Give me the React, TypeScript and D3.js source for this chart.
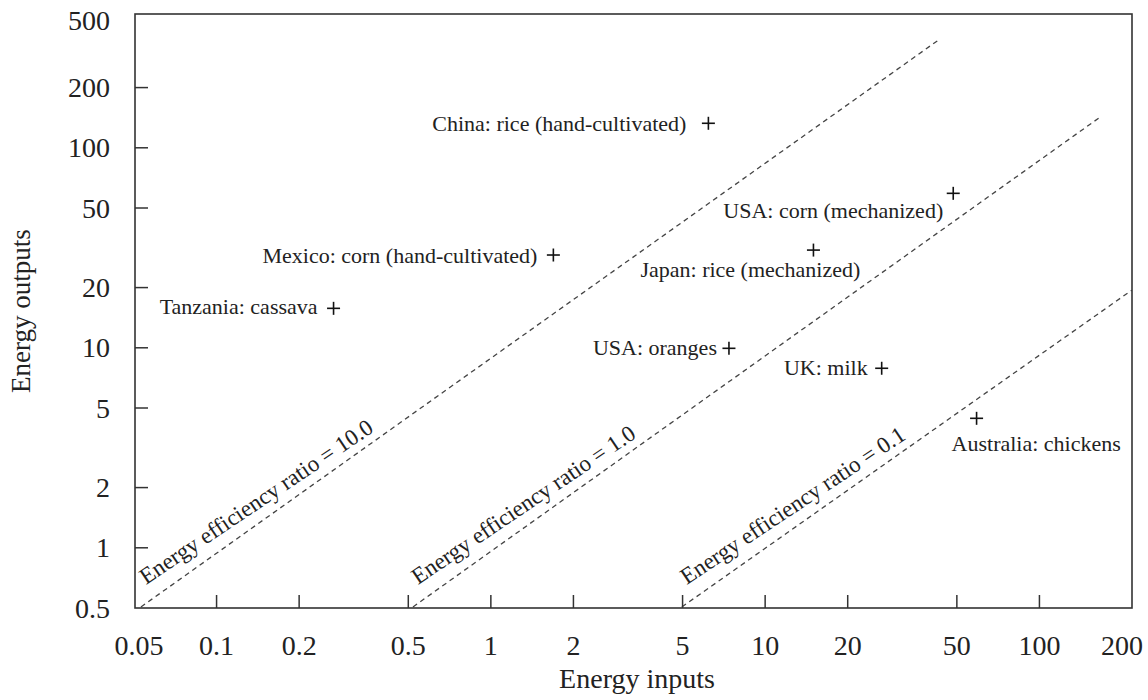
import React from "react";
import * as d3 from "d3";

const X_TICKS = [0.05, 0.1, 0.2, 0.5, 1, 2, 5, 10, 20, 50, 100, 200];
const Y_TICKS = [0.5, 1, 2, 5, 10, 20, 50, 100, 200, 500];

const CROPS = [
  "China: rice (hand-cultivated)",
  "Mexico: corn (hand-cultivated)",
  "Tanzania: cassava",
  "USA: corn (mechanized)",
  "Japan: rice (mechanized)",
  "USA: oranges",
  "UK: milk",
  "Australia: chickens",
];
const INPUTS = [6.21, 1.69, 0.267, 48.5, 15.0, 7.38, 26.6, 59.0];
const OUTPUTS = [132.6, 29.1, 15.75, 59.2, 30.8, 9.94, 7.9, 4.44];

const RATIOS = ["10.0", "1.0", "0.1"];
const RATIO_START_IN = [0.053, 0.52, 4.97];
const RATIO_START_OUT = [0.506, 0.506, 0.506];
const RATIO_END_IN = [43.4, 166, 217];
const RATIO_END_OUT = [350, 142, 19.4];

// label layout (style)
const LABEL_LAYOUT: Record<string, { anchor: string; dx: number; dy: number }> = {
  "China: rice (hand-cultivated)": { anchor: "end", dx: -22, dy: 8 },
  "Mexico: corn (hand-cultivated)": { anchor: "end", dx: -16, dy: 8 },
  "Tanzania: cassava": { anchor: "end", dx: -16, dy: 6 },
  "USA: corn (mechanized)": { anchor: "end", dx: -10, dy: 25 },
  "Japan: rice (mechanized)": { anchor: "start", dx: -173, dy: 27 },
  "USA: oranges": { anchor: "end", dx: -12, dy: 7 },
  "UK: milk": { anchor: "end", dx: -14, dy: 7 },
  "Australia: chickens": { anchor: "start", dx: -25, dy: 33 },
};

const FONT = "'Liberation Serif', 'DejaVu Serif', serif";
const W = 1148;
const H = 700;
const FRAME = { left: 135, right: 1132, top: 14, bottom: 608 };
const AXIS = "#333";

export default function App() {
  const x = d3.scaleLog().domain([0.05, 200]).range([134, 1122]);
  const y = d3.scaleLog().domain([0.5, 500]).range([608, 8]);
  const fmt = (v: number) => String(v);
  const plus = 6.5;

  return (
    <svg width={W} height={H} style={{ position: "absolute", left: 0, top: 0, background: "#fff" }} fontFamily={FONT}>
      <rect x={0} y={0} width={W} height={H} fill="#fff" />
      {/* ratio lines */}
      {RATIOS.map((r, i) => {
        const x0 = x(RATIO_START_IN[i]);
        const y0 = y(RATIO_START_OUT[i]);
        const x1 = x(RATIO_END_IN[i]);
        const y1 = y(RATIO_END_OUT[i]);
        const ang = (Math.atan2(y1 - y0, x1 - x0) * 180) / Math.PI + 1.5;
        return (
          <g key={r}>
            <line x1={x0} y1={y0} x2={x1} y2={y1} stroke="#444" strokeWidth={1.3} strokeDasharray="5,4" />
            <text
              transform={`translate(${x0 + 5},${y0 - 22}) rotate(${ang})`}
              fontSize={23}
              fill="#222"
            >
              {`Energy efficiency ratio = ${r}`}
            </text>
          </g>
        );
      })}
      {/* frame */}
      <rect
        x={FRAME.left}
        y={FRAME.top}
        width={FRAME.right - FRAME.left}
        height={FRAME.bottom - FRAME.top}
        fill="none"
        stroke={AXIS}
        strokeWidth={1.6}
      />
      {/* x ticks */}
      {X_TICKS.map((v) => (
        <g key={"x" + v}>
          {v !== 0.05 && v !== 200 && (
            <line x1={x(v)} x2={x(v)} y1={FRAME.bottom} y2={FRAME.bottom - 13} stroke={AXIS} strokeWidth={1.5} />
          )}
          <text x={Math.max(x(v), FRAME.left + 4)} y={655} textAnchor="middle" fontSize={28} fill="#222">
            {fmt(v)}
          </text>
        </g>
      ))}
      {/* y ticks */}
      {Y_TICKS.map((v) => (
        <g key={"y" + v}>
          {v !== 0.5 && v !== 500 && (
            <line x1={FRAME.left} x2={FRAME.left + 13} y1={y(v)} y2={y(v)} stroke={AXIS} strokeWidth={1.5} />
          )}
          <text
            x={110}
            y={Math.max(y(v), FRAME.top + 6)}
            dy="0.34em"
            textAnchor="end"
            fontSize={28}
            fill="#222"
          >
            {fmt(v)}
          </text>
        </g>
      ))}
      {/* points */}
      {CROPS.map((c, i) => {
        const px = x(INPUTS[i]);
        const py = y(OUTPUTS[i]);
        const L = LABEL_LAYOUT[c];
        return (
          <g key={c}>
            <line x1={px - plus} x2={px + plus} y1={py} y2={py} stroke="#111" strokeWidth={1.6} />
            <line x1={px} x2={px} y1={py - plus} y2={py + plus} stroke="#111" strokeWidth={1.6} />
            <text x={px + L.dx} y={py + L.dy} textAnchor={L.anchor} fontSize={22} fill="#222">
              {c}
            </text>
          </g>
        );
      })}
      {/* axis titles */}
      <text x={637} y={688} textAnchor="middle" fontSize={28} fill="#222">
        Energy inputs
      </text>
      <text transform="translate(30,311) rotate(-90)" textAnchor="middle" fontSize={27} fill="#222">
        Energy outputs
      </text>
    </svg>
  );
}
